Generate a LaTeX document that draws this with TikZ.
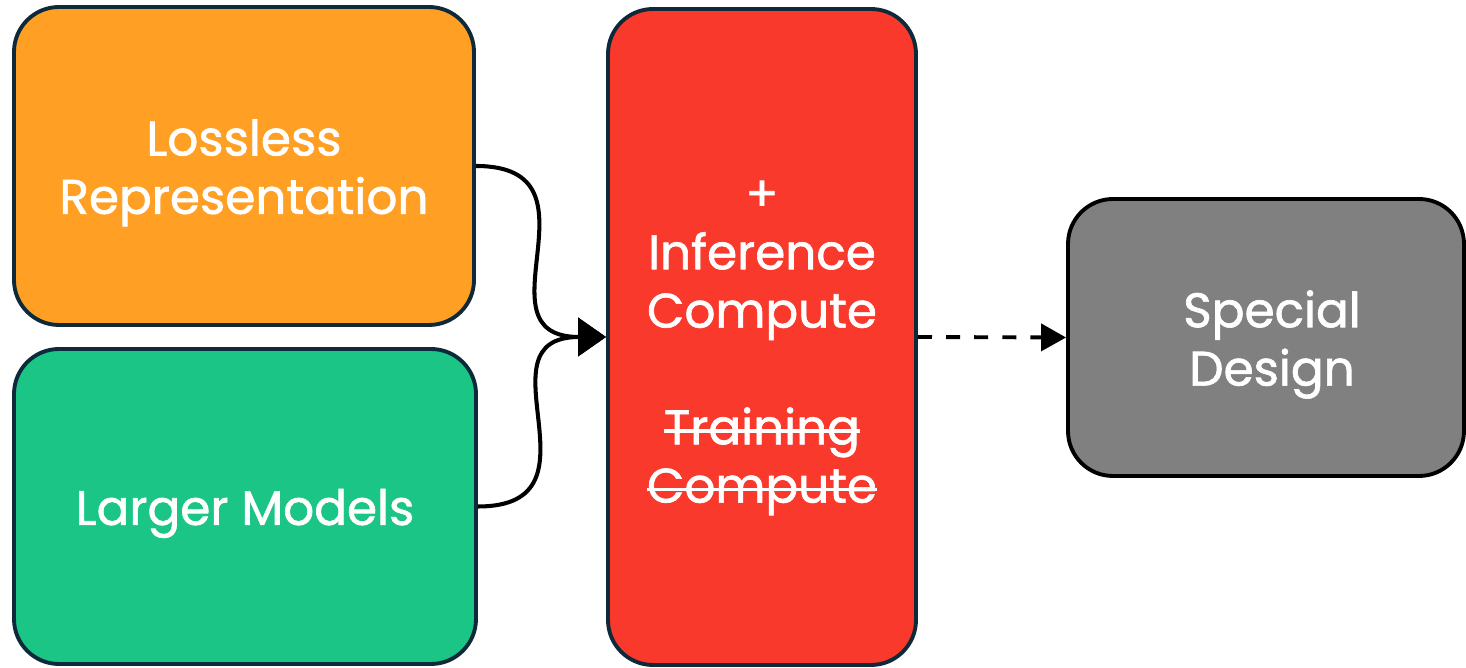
\documentclass[tikz,border=0pt]{standalone}
\usepackage{fontspec}
\setmainfont{Poppins}
\newfontfamily\blockfont{Poppins}[FakeBold=1.3]
\usetikzlibrary{arrows.meta}
\definecolor{lossorange}{HTML}{FF9F24}
\definecolor{modelgreen}{HTML}{1AC586}
\definecolor{computered}{HTML}{F8392B}
\definecolor{designgray}{HTML}{808080}
\definecolor{boxedge}{HTML}{0E2A3A}
\newlength{\strikelen}
\newcommand{\strikeout}[1]{\settowidth{\strikelen}{#1}\makebox[0pt][l]{\rule[\dimexpr0.5ex-0.45pt\relax]{\strikelen}{0.9pt}}#1}
\tikzset{
	block/.style={rectangle, rounded corners=12.8pt, draw=boxedge, line width=1.1pt},
	blocktext/.style={text=white, align=center, yshift=-0.07cm, font=\blockfont\fontsize{13.8}{16.6}\selectfont},
	flow/.style={draw, line width=1.15pt, -{Triangle[length=0.28cm,width=0.38cm]}},
}

\begin{document}
\begin{tikzpicture}[]
	\useasboundingbox (0,0) rectangle (14.66,-6.68);
	\node[block, fill=lossorange, minimum width=4.6cm, minimum height=3.18cm,
		label={[blocktext]center:{Lossless\\Representation}}] (lossless) at (2.44,-1.66) {};
	\node[block, fill=modelgreen, minimum width=4.62cm, minimum height=3.15cm,
		label={[blocktext]center:{Larger Models}}] (larger) at (2.45,-5.065) {};
	\node[block, fill=computered, minimum width=3.08cm, minimum height=6.56cm,
		label={[blocktext, yshift=-0.04cm]center:{+\\Inference\\Compute\\[16.6pt]\strikeout{Training}\\\strikeout{Compute}}}] (compute) at (7.62,-3.37) {};
	\node[block, fill=designgray, draw=black, minimum width=3.96cm, minimum height=2.77cm,
		label={[blocktext, xshift=0.06cm]center:{Special\\Design}}] (special) at (12.66,-3.375) {};

	\path[flow] (lossless.east) to[out=0,in=180,looseness=1.6] (compute.west);
	\path[flow] (larger.east) to[out=0,in=180,looseness=1.6] (compute.west);
	\path[flow, line width=1.1pt, dash pattern=on 4pt off 4pt, -{Triangle[length=0.25cm,width=0.27cm]}] (compute.east) -- (special.west);
\end{tikzpicture}
\end{document}
